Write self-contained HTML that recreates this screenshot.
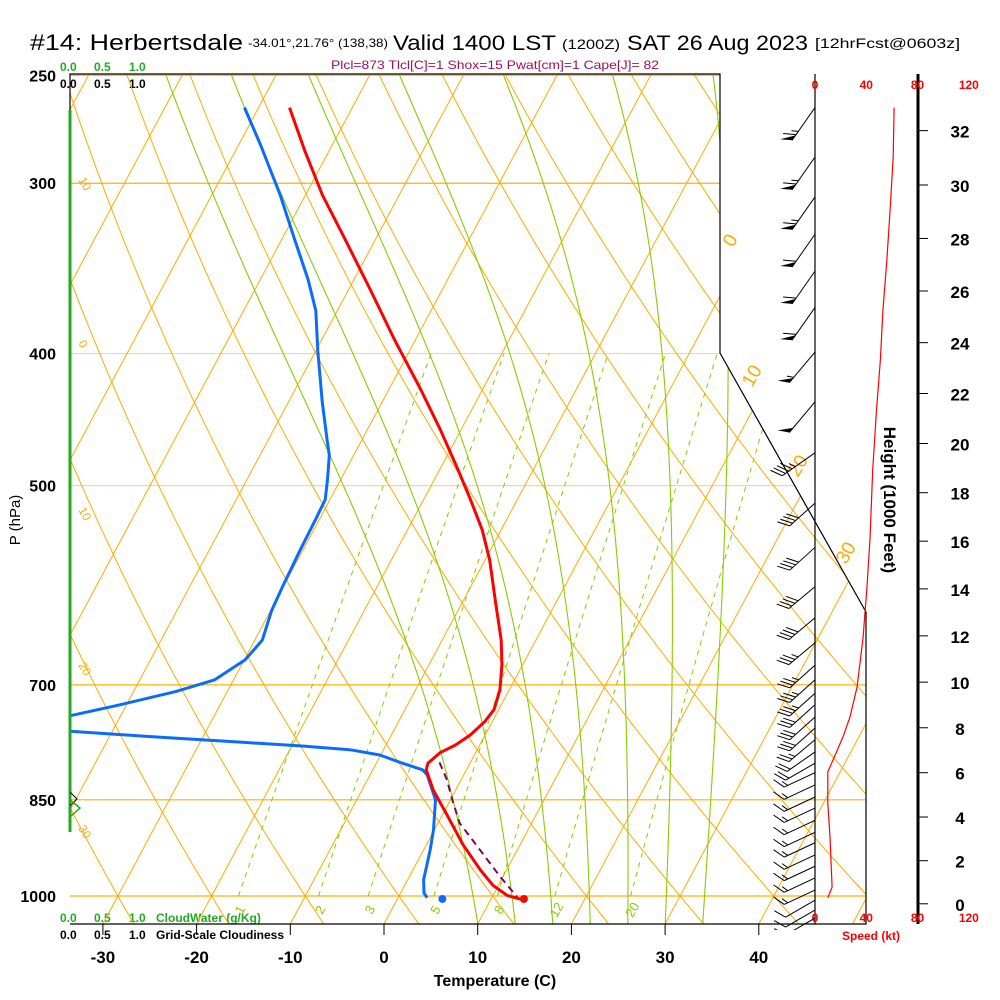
<!DOCTYPE html>
<html><head><meta charset="utf-8"><style>
html,body{margin:0;padding:0;background:#fff;}
svg{display:block;font-family:"Liberation Sans",sans-serif;}
.b{font-weight:bold;}
</style></head><body>
<svg id="chart" width="1000" height="1000" viewBox="0 0 1000 1000" xmlns="http://www.w3.org/2000/svg">
<defs><clipPath id="plotclip"><polygon points="70,74 720,74 720,353 866,612 866,924 70,924"/></clipPath>
<clipPath id="barbclip"><rect x="700" y="74" width="120" height="856"/></clipPath></defs>
<g id="title">
<text x="30" y="50" font-size="22" textLength="213" lengthAdjust="spacingAndGlyphs">#14: Herbertsdale</text>
<text x="248" y="47" font-size="12" textLength="140" lengthAdjust="spacingAndGlyphs">-34.01°,21.76° (138,38)</text>
<text x="393" y="50" font-size="21" textLength="163" lengthAdjust="spacingAndGlyphs">Valid 1400 LST</text>
<text x="562" y="49" font-size="14" textLength="58" lengthAdjust="spacingAndGlyphs">(1200Z)</text>
<text x="627" y="50" font-size="21" textLength="181" lengthAdjust="spacingAndGlyphs">SAT 26 Aug 2023</text>
<text x="815" y="48" font-size="14" textLength="145" lengthAdjust="spacingAndGlyphs">[12hrFcst@0603z]</text>
</g>
<text x="495" y="69" font-size="12" fill="#a0105a" text-anchor="middle" textLength="328" lengthAdjust="spacingAndGlyphs">Plcl=873 Tlcl[C]=1 Shox=15 Pwat[cm]=1 Cape[J]= 82</text>
<g font-size="12" class="b">
<text x="60" y="71" fill="#22aa22">0.0</text><text x="94" y="71" fill="#22aa22">0.5</text><text x="129" y="71" fill="#22aa22">1.0</text>
<text x="60" y="88">0.0</text><text x="94" y="88">0.5</text><text x="129" y="88">1.0</text>
</g>
<g font-size="12" class="b">
<text x="60" y="922" fill="#22aa22">0.0</text><text x="94" y="922" fill="#22aa22">0.5</text><text x="129" y="922" fill="#22aa22">1.0</text>
<text x="156" y="922" fill="#22aa22">CloudWater (g/Kg)</text>
<text x="60" y="939">0.0</text><text x="94" y="939">0.5</text><text x="129" y="939">1.0</text>
<text x="156" y="939">Grid-Scale Cloudiness</text>
</g>
<g id="grid" clip-path="url(#plotclip)"></g>
<g id="marks" clip-path="url(#plotclip)"></g>
<g id="overlay"></g>
<g id="barbs" clip-path="url(#barbclip)"></g>
<text transform="translate(20,520) rotate(-90)" font-size="15" text-anchor="middle">P (hPa)</text>
<text class="b" x="495" y="986" font-size="16" text-anchor="middle">Temperature (C)</text>
<text class="b" transform="translate(884,500) rotate(90)" font-size="17" text-anchor="middle">Height (1000 Feet)</text>
<text class="b" x="871" y="940" font-size="12" fill="#ff0000" text-anchor="middle">Speed (kt)</text>
</svg>
<script>
// ---- data ----
const pressureTicks = [250, 300, 400, 500, 700, 850, 1000];
const tempTicks = [-30, -20, -10, 0, 10, 20, 30, 40];
const tempP = [264,284,306,330,359,391,425,455,487,512,539,567,607,649,677,706,730,745,762,775,785,799,808,836,872,917,957,982,999,1005];
const tempC = [-56.7,-52.6,-48.2,-43.2,-37.7,-32.2,-26.6,-22.2,-18.0,-15.0,-12.0,-9.5,-6.6,-3.7,-2.2,-1.0,-0.5,-0.8,-1.6,-2.6,-3.8,-4.5,-4.3,-2.4,0.5,3.9,7.2,9.4,11.5,13.1];
const dewP = [264,281,306,330,353,372,398,433,463,475,495,512,530,557,591,617,649,671,694,708,724,737,745,757,764,772,776,781,788,798,808,815,850,894,925,973,995,1003];
const dewC = [-61.5,-57.7,-52.7,-48.6,-44.9,-42.3,-39.8,-36.5,-33.7,-32.6,-31.4,-30.5,-30.4,-30.3,-30.1,-29.9,-29.2,-29.9,-32.0,-35.5,-40.7,-45.2,-52,-44.5,-35.6,-24.6,-19.1,-13.6,-10.1,-7.5,-4.7,-3.9,-1.6,-0.1,0.7,1.7,2.5,3.1];
const parcelP = [798,822,850,884,925,968,1002];
const parcelC = [-3.3,-1.5,0.2,2.3,6.0,9.7,12.7];
const sfcP = 1005, sfcT = 13.5, sfcTd = 4.8;
const barbP = [264,287,307,327,348,370,399,434,473,515,555,593,625,652,677,694,710,724,739,753,768,784,799,812,829,846,862,880,898,914,933,951,970,990,1007,1024,1038];
const barbDir = [215,215,215,215,215,215,220,220,235,228,228,230,230,230,228,228,228,228,228,228,230,235,240,245,245,245,245,245,245,245,245,245,245,245,240,240,240];
const barbSpd = [65,65,65,60,60,60,55,50,45,40,40,40,40,35,35,35,35,30,30,30,25,20,20,15,15,15,15,15,15,15,15,15,15,15,10,10,10];
const speedP = [264,287,314,342,372,404,440,487,545,593,646,703,739,764,795,811,855,905,985,1003];
const speedKt = [61.7,61,58.6,56,53,51,48,45,43,40.6,37.5,32.8,27.3,21.9,14,10,10,11.7,13.3,10];
const heightTicks = [0,2,4,6,8,10,12,14,16,18,20,22,24,26,28,30,32];
const speedTicks = [0,40,80,120];
const mixRatios = [1,2,3,5,8,12,20];
const moistStart = [10,14,18,22,26,30,34];

// ---- axes ----
const NS="http://www.w3.org/2000/svg";
function yP(p){return 896-592*Math.log(1000/p);}
function xT(T,p){return 384+9.37*T+0.535*(924-yP(p));}
function xS(k){return 815+1.282*k;}
function pH(kft){return 1013.25*Math.pow(1-6.8756e-3*kft,5.2559);}
function mk(tag,attrs,parent){const e=document.createElementNS(NS,tag);for(const k in attrs)e.setAttribute(k,attrs[k]);parent.appendChild(e);return e;}
function pts(arr){return arr.map(a=>a[0].toFixed(1)+","+a[1].toFixed(1)).join(" ");}
const grid=document.getElementById('grid'), marks=document.getElementById('marks'), ov=document.getElementById('overlay'), bg=document.getElementById('barbs');

pressureTicks.forEach(p=>{
  const l=mk('line',{x1:70,x2:866,y1:yP(p),y2:yP(p),stroke:(p==400||p==500)?'#f2d7a0':'#ffb000','stroke-width':1.2},grid);
  
  
  const t=mk('text',{x:56,y:yP(p)+6,'font-size':16,'text-anchor':'end','font-weight':'bold'},ov);
  t.textContent=p;
  
  
});
for(let T=-110;T<=50;T+=10){
  const l=mk('line',{x1:xT(T,1050),y1:yP(1050),x2:xT(T,240),y2:yP(240),stroke:'#ffaa00','stroke-width':1},grid);
  
  
}
for(let th=-40;th<=160;th+=10){
  const a=[];for(let p=1050;p>=240;p-=10){const T=(th+273.15)*Math.pow(p/1000,0.2857)-273.15;a.push([xT(T,p),yP(p)]);}
  const l=mk('polyline',{points:pts(a),fill:'none',stroke:'#ffaa00','stroke-width':1},grid);
  
  
}
function es(T){return 6.112*Math.exp(17.67*T/(T+243.5));}
moistStart.forEach(T0=>{
  let T=T0+273.15,p=1048;const a=[[xT(T0,p),yP(p)]];
  while(p>250){const dp=-2;const Tc=T-273.15;const e=es(Tc);const rs=0.622*e/(p-e);
    const dTdp=(287*T+2.5e6*rs)/(p*(1004+2.5e6*2.5e6*rs*0.622/(287*T*T)));T+=dTdp*dp;p+=dp;a.push([xT(T-273.15,p),yP(p)]);}
  const l=mk('polyline',{points:pts(a),fill:'none',stroke:'#88cc00','stroke-width':1.1},grid);
  
  
});
mixRatios.forEach(w=>{
  const a=[];for(let p=1000;p>=400;p-=10){const e=w*p/(622+w);const L=Math.log(e/6.112);const Td=243.5*L/(17.67-L);a.push([xT(Td,p),yP(p)]);}
  const l=mk('polyline',{points:pts(a),fill:'none',stroke:'#88cc00','stroke-width':1,'stroke-dasharray':'5,5'},grid);
  
  
  const e=w*1000/(622+w);const L=Math.log(e/6.112);const Td=243.5*L/(17.67-L);
  const t=mk('text',{x:xT(Td,1000)+2,y:914,'font-size':13,fill:'#88cc00','text-anchor':'middle',transform:'rotate(-60 '+(xT(Td,1000)+2)+' 910)'},ov);
  t.textContent=w;
  
  
});
[[78,180,'10'],[78,343,'0'],[78,510,'10'],[78,665,'20'],[78,828,'30']].forEach(d=>{
  const t=mk('text',{x:d[0],y:d[1],'font-size':12,fill:'#ffaa00',transform:'rotate(60 '+d[0]+' '+d[1]+')'},ov);t.textContent=d[2];
  
  
});
[[733,248,'0'],[752,388,'10'],[798,478,'20'],[846,565,'30']].forEach(d=>{
  const t=mk('text',{x:d[0],y:d[1],'font-size':19,fill:'#ffaa00',transform:'rotate(-60 '+d[0]+' '+d[1]+')'},ov);t.textContent=d[2];
  
  
});
function prof(P,C){return P.map((p,i)=>[xT(C[i],p),yP(p)]);}
let e;
e=mk('polyline',{points:pts(prof(dewP,dewC)),fill:'none',stroke:'#0a6cff','stroke-width':3,'stroke-linejoin':'round'},marks);


e=mk('polyline',{points:pts(prof(parcelP,parcelC)),fill:'none',stroke:'#800060','stroke-width':2,'stroke-dasharray':'7,5'},marks);


e=mk('polyline',{points:pts(prof(tempP,tempC)),fill:'none',stroke:'#ff0000','stroke-width':3,'stroke-linejoin':'round'},marks);


e=mk('circle',{cx:xT(sfcT,sfcP),cy:yP(sfcP),r:4,fill:'#ff0000'},marks);


e=mk('circle',{cx:xT(sfcTd,sfcP),cy:yP(sfcP),r:4,fill:'#0a6cff'},marks);


e=mk('line',{x1:70,y1:110,x2:70,y2:832,stroke:'#22aa22','stroke-width':3},ov);


mk('polyline',{points:'70,792 77,799 70,806',fill:'none',stroke:'#000','stroke-width':1},ov);
mk('polyline',{points:'70,800 80,808 70,817',fill:'none',stroke:'#22aa22','stroke-width':1.5},ov);
e=mk('polyline',{points:'70,110 70,74 720,74 720,353 866,612 866,924 70,924',fill:'none',stroke:'#000','stroke-width':1.2},ov);


e=mk('line',{x1:815,y1:74,x2:815,y2:924,stroke:'#000','stroke-width':1.2},ov);


e=mk('line',{x1:918,y1:74,x2:918,y2:924,stroke:'#000','stroke-width':3},ov);


tempTicks.forEach(T=>{
  const x=384+9.37*T;
  mk('line',{x1:x,y1:924,x2:x,y2:935,stroke:'#000','stroke-width':1},ov);
  const t=mk('text',{x:x,y:963,'font-size':17,'text-anchor':'middle','font-weight':'bold'},ov);t.textContent=T;
  
  
});
heightTicks.forEach(h=>{
  const y=yP(pH(h));
  mk('line',{x1:918,y1:y,x2:928,y2:y,stroke:'#000','stroke-width':1},ov);
  const t=mk('text',{x:960,y:y+7,'font-size':17,'text-anchor':'middle','font-weight':'bold'},ov);t.textContent=h;
  
  
});
speedTicks.forEach(k=>{
  let t=mk('text',{x:xS(k),y:89,'font-size':12,fill:'#ff0000','text-anchor':'middle','font-weight':'bold'},ov);t.textContent=k;
  
  
  t=mk('text',{x:xS(k),y:922,'font-size':12,fill:'#ff0000','text-anchor':'middle','font-weight':'bold'},ov);t.textContent=k;
  
  
});
e=mk('polyline',{points:pts(speedP.map((p,i)=>[xS(speedKt[i]),yP(p)])),fill:'none',stroke:'#ff0000','stroke-width':1.2},ov);


barbP.forEach((p,i)=>{
  const g=mk('g',{},bg);
  
  
  const bx=815,by=yP(p),d=barbDir[i]*Math.PI/180;
  const ux=Math.sin(d),uy=-Math.cos(d);const L=p<480?40:34;
  const tx=bx+ux*L,ty=by+uy*L;
  mk('line',{x1:bx,y1:by,x2:tx,y2:ty,stroke:'#000','stroke-width':1},g);
  const a=Math.atan2(uy,ux)+60*Math.PI/180;const fx=Math.cos(a),fy=Math.sin(a);
  let s=barbSpd[i],pos=0;
  while(s>=50){const x0=tx-ux*pos,y0=ty-uy*pos;
    mk('polygon',{points:pts([[x0,y0],[x0+fx*12,y0+fy*12],[x0-ux*6,y0-uy*6]]),fill:'#000'},g);pos+=7;s-=50;}
  while(s>=10){const x0=tx-ux*pos,y0=ty-uy*pos;mk('line',{x1:x0,y1:y0,x2:x0+fx*13,y2:y0+fy*13,stroke:'#000','stroke-width':1},g);pos+=4;s-=10;}
  if(s>=5){const x0=tx-ux*pos,y0=ty-uy*pos;mk('line',{x1:x0,y1:y0,x2:x0+fx*7,y2:y0+fy*7,stroke:'#000','stroke-width':1},g);}
});
</script>
</body></html>
